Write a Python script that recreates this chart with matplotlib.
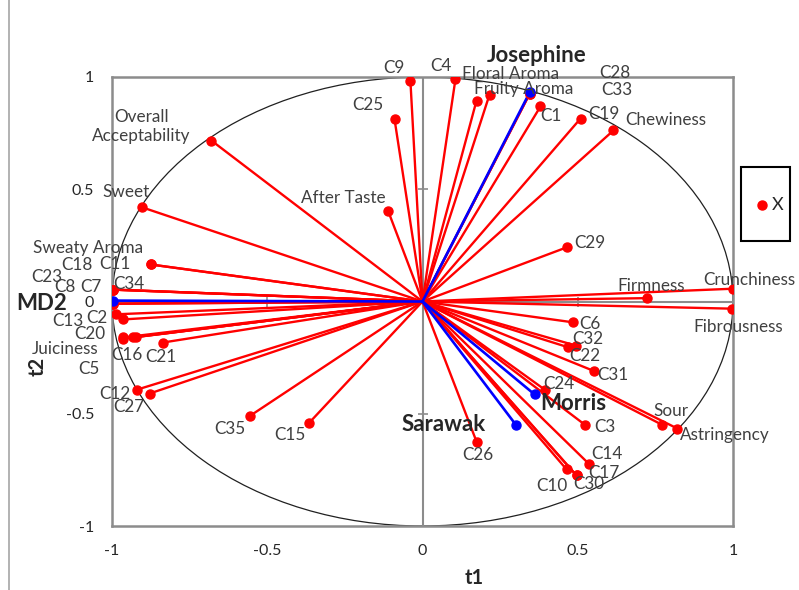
import numpy as np
import matplotlib.pyplot as plt
from matplotlib.patches import Ellipse, Rectangle
from matplotlib.lines import Line2D

plt.rcParams['font.family'] = ['Lato', 'DejaVu Sans']

# variables (correlation loadings on t1 / t2)
var_names = ['C9', 'C4', 'Floral Aroma', 'Fruity Aroma', 'C28', 'C33', 'C25', 'C1',
             'C19', 'Chewiness', 'Overall\nAcceptability', 'Sweet', 'After Taste', 'C29',
             'Sweaty Aroma', 'C11', 'C18', 'C23', 'C8', 'C7', 'C34', 'C13', 'C2', 'C20',
             'Juiciness', 'C16', 'C5', 'C21', 'C12', 'C27', 'C35', 'C15', 'C26', 'C24',
             'C3', 'Sour', 'Astringency', 'C14', 'C10', 'C30', 'C17', 'C31', 'C32', 'C22',
             'C6', 'Fibrousness', 'Crunchiness', 'Firmness']
var_t1 = [-0.039, 0.106, 0.174, 0.216, 0.345, 0.345, -0.090, 0.380,
          0.509, 0.615, -0.680, -0.902, -0.110, 0.464,
          -0.876, -0.876, -0.998, -0.998, -0.998, -0.998, -0.998, -0.986, -0.966, -0.963,
          -0.931, -0.924, -0.963, -0.837, -0.918, -0.879, -0.554, -0.364, 0.174, 0.393,
          0.522, 0.770, 0.821, 0.535, 0.464, 0.496, 0.496, 0.551, 0.467, 0.493,
          0.486, 0.998, 1.000, 0.724]
var_t2 = [0.984, 0.989, 0.895, 0.922, 0.925, 0.925, 0.811, 0.869,
          0.815, 0.762, 0.717, 0.419, 0.401, 0.241,
          0.165, 0.165, 0.053, -0.010, -0.010, 0.053, 0.053, -0.057, -0.080, -0.160,
          -0.160, -0.158, -0.165, -0.183, -0.392, -0.410, -0.508, -0.539, -0.624, -0.392,
          -0.548, -0.548, -0.566, -0.722, -0.748, -0.775, -0.775, -0.309, -0.203, -0.196,
          -0.093, -0.032, 0.057, 0.015]

# observations (varieties)
obs_names = ['Josephine', 'MD2', 'Morris', 'Sarawak']
obs_t1 = [0.345, -0.998, 0.361, 0.300]
obs_t2 = [0.931, 0.004, -0.414, -0.548]

# label offsets in pixels from each point
var_off = {'C9': (-16, 13), 'C4': (-14, 13), 'Floral Aroma': (34, 27), 'Fruity Aroma': (34, 6),
           'C28': (85, 21), 'C33': (87, 4), 'C25': (-27, 14), 'C1': (10, -10),
           'C19': (23, 5), 'Chewiness': (52, 10), 'Overall\nAcceptability': (-70, 14),
           'Sweet': (-16, 15), 'After Taste': (-45, 13), 'C29': (23, 4),
           'Sweaty Aroma': (-62, 16), 'C11': (-36, 0), 'C18': (-36, 25), 'C23': (-66, 27),
           'C8': (-48, 17), 'C7': (-22, 3), 'C34': (16, 6), 'C13': (-48, -7), 'C2': (-26, 1),
           'C20': (-34, 3), 'Juiciness': (-68, -12), 'C16': (-9, -18), 'C5': (-35, -30),
           'C21': (-2, -14), 'C12': (-23, -4), 'C27': (-21, -13), 'C35': (-21, -13),
           'C15': (-20, -12), 'C26': (1, -13), 'C24': (14, 6), 'C3': (20, -2), 'Sour': (9, 14),
           'Astringency': (47, -6), 'C14': (18, 10), 'C10': (-15, -17), 'C30': (12, -9),
           'C17': (27, 2), 'C31': (19, -4), 'C32': (20, 8), 'C22': (9, -10), 'C6': (16, -2),
           'Fibrousness': (6, -18), 'Crunchiness': (16, 9), 'Firmness': (4, 12)}
obs_off = {'Josephine': (7, 37), 'MD2': (-71, -3), 'Morris': (39, -9), 'Sarawak': (-72, 0)}

fig = plt.figure(figsize=(7.99, 5.90), dpi=100)
ax = fig.add_axes([112 / 799, 64 / 590, 621 / 799, 449 / 590])
ax.set_xlim(-1, 1)
ax.set_ylim(-1, 1)

grey = '#8c8c8c'
txt = '#404040'

# correlation circle
ax.add_patch(Ellipse((0, 0), 2, 2, fill=False, color='#202020', lw=0.9, zorder=1))

# axes through the origin with cross ticks at +/-0.5
ax.axhline(0, color=grey, lw=1.5, zorder=1)
ax.axvline(0, color=grey, lw=1.5, zorder=1)
for v in (-0.5, 0.5):
    ax.plot([v], [0], marker='|', ms=7, mew=1.2, color=grey, zorder=1)
    ax.plot([0], [v], marker='_', ms=7, mew=1.2, color=grey, zorder=1)

for s in ax.spines.values():
    s.set_color(grey)
    s.set_linewidth(1.8)

ax.set_xticks([-1, -0.5, 0, 0.5, 1])
ax.set_yticks([-1, -0.5, 0, 0.5, 1])
ax.set_xticklabels(['-1', '-0.5', '0', '0.5', '1'])
ax.set_yticklabels(['-1', '-0.5', '0', '0.5', '1'])
ax.tick_params(length=0, labelsize=11.5, labelcolor='#262626', pad=13)

# variable vectors
for name, x, y in zip(var_names, var_t1, var_t2):
    ax.plot([0, x], [0, y], color='red', lw=1.7, zorder=2)
    ax.plot([x], [y], 'o', color='red', ms=6.5, zorder=4)
    ax.annotate(name, (x, y), xytext=var_off[name], textcoords='offset pixels',
                ha='center', va='center', fontsize=12.3, color=txt, zorder=5,
                linespacing=1.25)

# observation vectors
for name, x, y in zip(obs_names, obs_t1, obs_t2):
    ax.plot([0, x], [0, y], color='#0000ff', lw=1.9, zorder=3)
    ax.plot([x], [y], 'o', color='#0000ff', ms=6.5, zorder=4)
    ax.annotate(name, (x, y), xytext=obs_off[name], textcoords='offset pixels',
                ha='center', va='center', fontsize=16, fontweight='bold',
                color='#262626', zorder=5)

fig.text(474 / 799, 1 - 578 / 590, 't1', ha='center', va='center',
         fontsize=14.5, fontweight='bold', color='#262626')
fig.text(38 / 799, 1 - 366 / 590, 't2', ha='center', va='center', rotation=90,
         fontsize=14.5, fontweight='bold', color='#262626')

# legend box
fig.patches.append(Rectangle((741 / 799, 1 - 241 / 590), 49 / 799, 74 / 590,
                             transform=fig.transFigure, fill=False, ec='black', lw=1.5))
fig.lines.append(Line2D([762 / 799], [1 - 205 / 590], marker='o', color='red', ms=6.5,
                        transform=fig.transFigure))
fig.text(778 / 799, 1 - 205 / 590, 'X', ha='center', va='center', fontsize=13, color='#262626')

# chart area border on the left
fig.lines.append(Line2D([9 / 799, 9 / 799], [0, 1], color='#a6a6a6', lw=1.2,
                        transform=fig.transFigure))

fig.savefig('out.png', dpi=100)
